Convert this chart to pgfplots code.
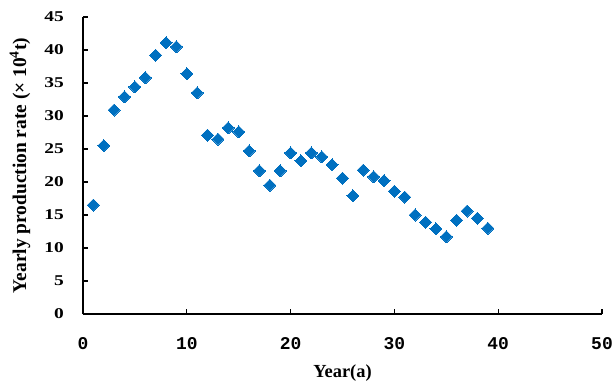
\documentclass[border=0pt]{standalone}
\usepackage{fontspec}
\setmainfont{Liberation Serif}
\newfontfamily\xtickfont{Liberation Mono}
\usepackage{pgfplots}
\pgfplotsset{compat=1.18}
\definecolor{ptblue}{RGB}{0,112,192}
\begin{document}
\begin{tikzpicture}
\path[use as bounding box] (-83bp,-69bp) rectangle (532bp,314bp);
\begin{axis}[
  at={(0,0)}, anchor=origin,
  scale only axis,
  width=519bp, height=297bp,
  xmin=0, xmax=50, ymin=0, ymax=45,
  xtick={0,10,20,30,40,50},
  ytick={0,5,10,15,20,25,30,35,40,45},
  axis x line*=bottom, axis y line*=left,
  axis line style={line width=1.4pt, black, -},
  tick align=inside,
  major tick length=5bp,
  tick style={line width=1.2pt, black},
  /pgf/number format/assume math mode=true,
  xticklabel style={font=\xtickfont\bfseries\fontsize{18}{20}\selectfont, anchor=base, inner sep=0pt, yshift=-35bp},
  yticklabel style={font=\bfseries\fontsize{15}{17}\selectfont, anchor=east, inner sep=0pt, xshift=-19bp, xscale=1.3},
  xlabel={Year(a)},
  ylabel={Yearly production rate (× 10\textsuperscript{4}t)},
  every axis x label/.style={at={(axis description cs:0.5,0)}, anchor=base, yshift=-63bp, font=\bfseries\fontsize{18.5}{20}\selectfont},
  every axis y label/.style={at={(axis description cs:0,0.5)}, xshift=-63bp, rotate=90, anchor=center, font=\bfseries\fontsize{19.5}{21}\selectfont},
  clip=false,
]
\addplot[only marks, mark=square*, mark size=4.25bp, mark options={rotate=45, fill=ptblue, draw=ptblue, line width=0pt}, color=ptblue]
coordinates {
(1,16.5) (2,25.5) (3,30.9) (4,32.9) (5,34.4) (6,35.8) (7,39.2) (8,41.1) (9,40.5) (10,36.4)
(11,33.5) (12,27.1) (13,26.5) (14,28.2) (15,27.6) (16,24.7) (17,21.7) (18,19.5) (19,21.7) (20,24.4)
(21,23.2) (22,24.4) (23,23.8) (24,22.6) (25,20.6) (26,17.9) (27,21.8) (28,20.8) (29,20.2) (30,18.6)
(31,17.7) (32,15.0) (33,13.9) (34,12.9) (35,11.7) (36,14.2) (37,15.6) (38,14.5) (39,13.0)
};
\end{axis}
\end{tikzpicture}
\end{document}
